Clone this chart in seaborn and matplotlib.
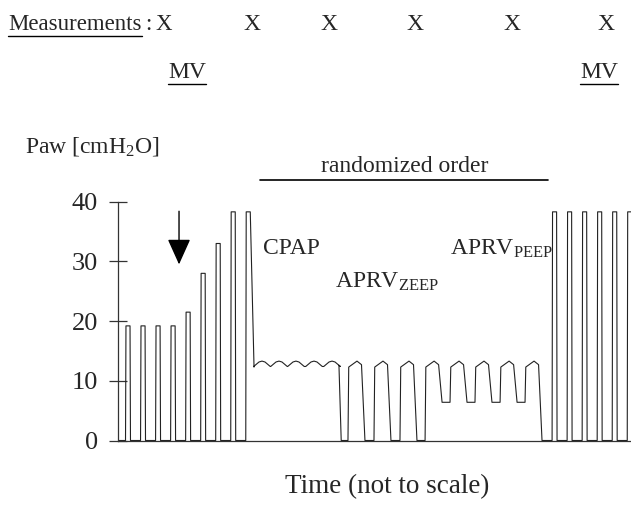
import numpy as np
import pandas as pd
import matplotlib
matplotlib.use("Agg")
import matplotlib.pyplot as plt
import seaborn as sns

# ---------------- data ----------------
# pre-recruitment mechanical ventilation breaths (onset time, peak pressure)
mv_pre_onsets = [0.5, 1.5, 2.5, 3.5, 4.5, 5.5, 6.5, 7.5, 8.5]
mv_pre_peaks = [19.2, 19.2, 19.2, 19.2, 21.5, 28.0, 33.0, 38.3, 38.3]
# CPAP phase
cpap_start, cpap_end = 9.05, 14.7
cpap_base, cpap_top = 12.4, 13.3
cpap_hump_times = [9.58, 10.71, 11.84, 13.04, 14.24]
# APRV phases (onset of high-pressure phase, release pressure afterwards)
aprv_onsets = [15.3, 17.03, 18.76, 20.43, 22.09, 23.75, 25.42, 27.08]
aprv_release = [0.0, 0.0, 0.0, 6.4, 6.4, 6.4, 6.4, 0.0]
aprv_high, aprv_peak, aprv_shoulder = 12.3, 13.3, 12.7
# post mechanical ventilation breaths
mv_post_onsets = [28.88, 29.88, 30.88, 31.88, 32.88, 33.88]
mv_post_peaks = [38.3, 38.3, 38.3, 38.3, 38.3, 38.3]

y_ticks = [0, 10, 20, 30, 40]
arrow_time = 4.06
arrow_from, arrow_to = 38.4, 29.5
measure_labels = ["X", "X", "X", "X", "X"]

# ---------------- build waveform ----------------
t, p = [0.0], [0.0]
for i, (on, pk) in enumerate(zip(mv_pre_onsets, mv_pre_peaks)):
    t += [on, on + 0.03, on + 0.30]
    p += [0.0, pk, pk]
    if i < len(mv_pre_onsets) - 1:
        t.append(on + 0.33); p.append(0.0)
    else:
        t.append(cpap_start); p.append(cpap_base - 0.1)
for c in cpap_hump_times:
    t += [c - 0.55, c - 0.2, c, c + 0.2, c + 0.55]
    p += [cpap_base, cpap_top - 0.15, cpap_top, cpap_top - 0.15, cpap_base]
t += [cpap_end, cpap_end + 0.15]
p += [cpap_base + 0.2, 0.0]
low = 0.0
for on, rel in zip(aprv_onsets, aprv_release):
    t += [on, on + 0.05, on + 0.6, on + 0.9, on + 1.13]
    p += [low, aprv_high, aprv_peak, aprv_shoulder, rel]
    low = rel
for on, pk in zip(mv_post_onsets, mv_post_peaks):
    t += [on, on + 0.03, on + 0.30, on + 0.33]
    p += [0.0, pk, pk, 0.0]
df = pd.DataFrame({"time": t, "paw": p})

# ---------------- figure ----------------
sns.set_theme(style="white")
plt.rcParams["font.family"] = ["Liberation Serif", "DejaVu Serif"]
plt.rcParams["mathtext.fontset"] = "custom"
plt.rcParams["mathtext.rm"] = "Liberation Serif"
plt.rcParams["mathtext.it"] = "Liberation Serif:italic"

W, H = 631, 511
fig = plt.figure(figsize=(W / 100, H / 100), dpi=100)
ax = fig.add_axes([118 / W, (H - 440.5) / H, (W - 118) / W, 238.8 / H])

sns.lineplot(data=df, x="time", y="paw", sort=False, estimator=None,
             color="#222222", lw=0.8, ax=ax)
ax.set_xlim(0, 34.13)
ax.set_ylim(0, 40)
ax.set_yticks(y_ticks)
ax.set_yticklabels([str(v) for v in y_ticks], fontsize=19)
ax.set_xticks([])
ax.set_xlabel("")
ax.set_ylabel("")
ax.tick_params(axis="y", direction="inout", length=13, width=0.9,
               color="#333333", pad=8, left=True)
for s in ["top", "right"]:
    ax.spines[s].set_visible(False)
for s in ["left", "bottom"]:
    ax.spines[s].set_color("#333333")
    ax.spines[s].set_linewidth(0.9)

# arrow
ax.annotate("", xy=(arrow_time, arrow_to), xytext=(arrow_time, arrow_from),
            arrowprops=dict(arrowstyle="-|>,head_length=16,head_width=7.2",
                            mutation_scale=1, color="black", lw=1.0,
                            shrinkA=0, shrinkB=0),
            annotation_clip=False)


def ftext(x, y, s, **kw):
    return fig.text(x / W, 1 - y / H, s, **kw)


def underline(txt, y):
    fig.canvas.draw()
    r = fig.canvas.get_renderer()
    bb = txt.get_window_extent(r)
    fig.add_artist(plt.Line2D([bb.x0 / W, bb.x1 / W], [1 - y / H, 1 - y / H],
                              transform=fig.transFigure, color="black", lw=1.0))

fs = 17
tm = ftext(8, 24, "Measurements", fontsize=16.5, va="center", ha="left")
fig.canvas.draw()
bbm = tm.get_window_extent(fig.canvas.get_renderer())
ftext(bbm.x1 + 4, 24, ":", fontsize=16.5, va="center", ha="left")
ftext(bbm.x1 + 14, 24, "X", fontsize=16.5, va="center", ha="left")
underline(tm, 36)
for xc, lab in zip([252, 329, 415, 512, 606], measure_labels):
    ftext(xc, 24, lab, fontsize=fs, va="center", ha="center")
for xc in [187, 599]:
    mv = ftext(xc, 73, "MV", fontsize=fs, va="center", ha="center")
    underline(mv, 84)

ftext(25, 146, "Paw [cmH$_2$O]", fontsize=fs, va="center", ha="left")
ftext(405, 166, "randomized order", fontsize=fs, va="center", ha="center")
fig.add_artist(plt.Line2D([260 / W, 548 / W], [1 - 180 / H, 1 - 180 / H],
                          transform=fig.transFigure, color="black", lw=1.2))
ftext(263, 249, "CPAP", fontsize=fs, va="center", ha="left")
ftext(335, 282, "APRV$_{\\mathrm{ZEEP}}$", fontsize=fs, va="center", ha="left")
ftext(450, 249, "APRV$_{\\mathrm{PEEP}}$", fontsize=fs, va="center", ha="left")
ftext(387, 487, "Time (not to scale)", fontsize=19.5, va="center", ha="center")

fig.savefig("out.png", dpi=100)
